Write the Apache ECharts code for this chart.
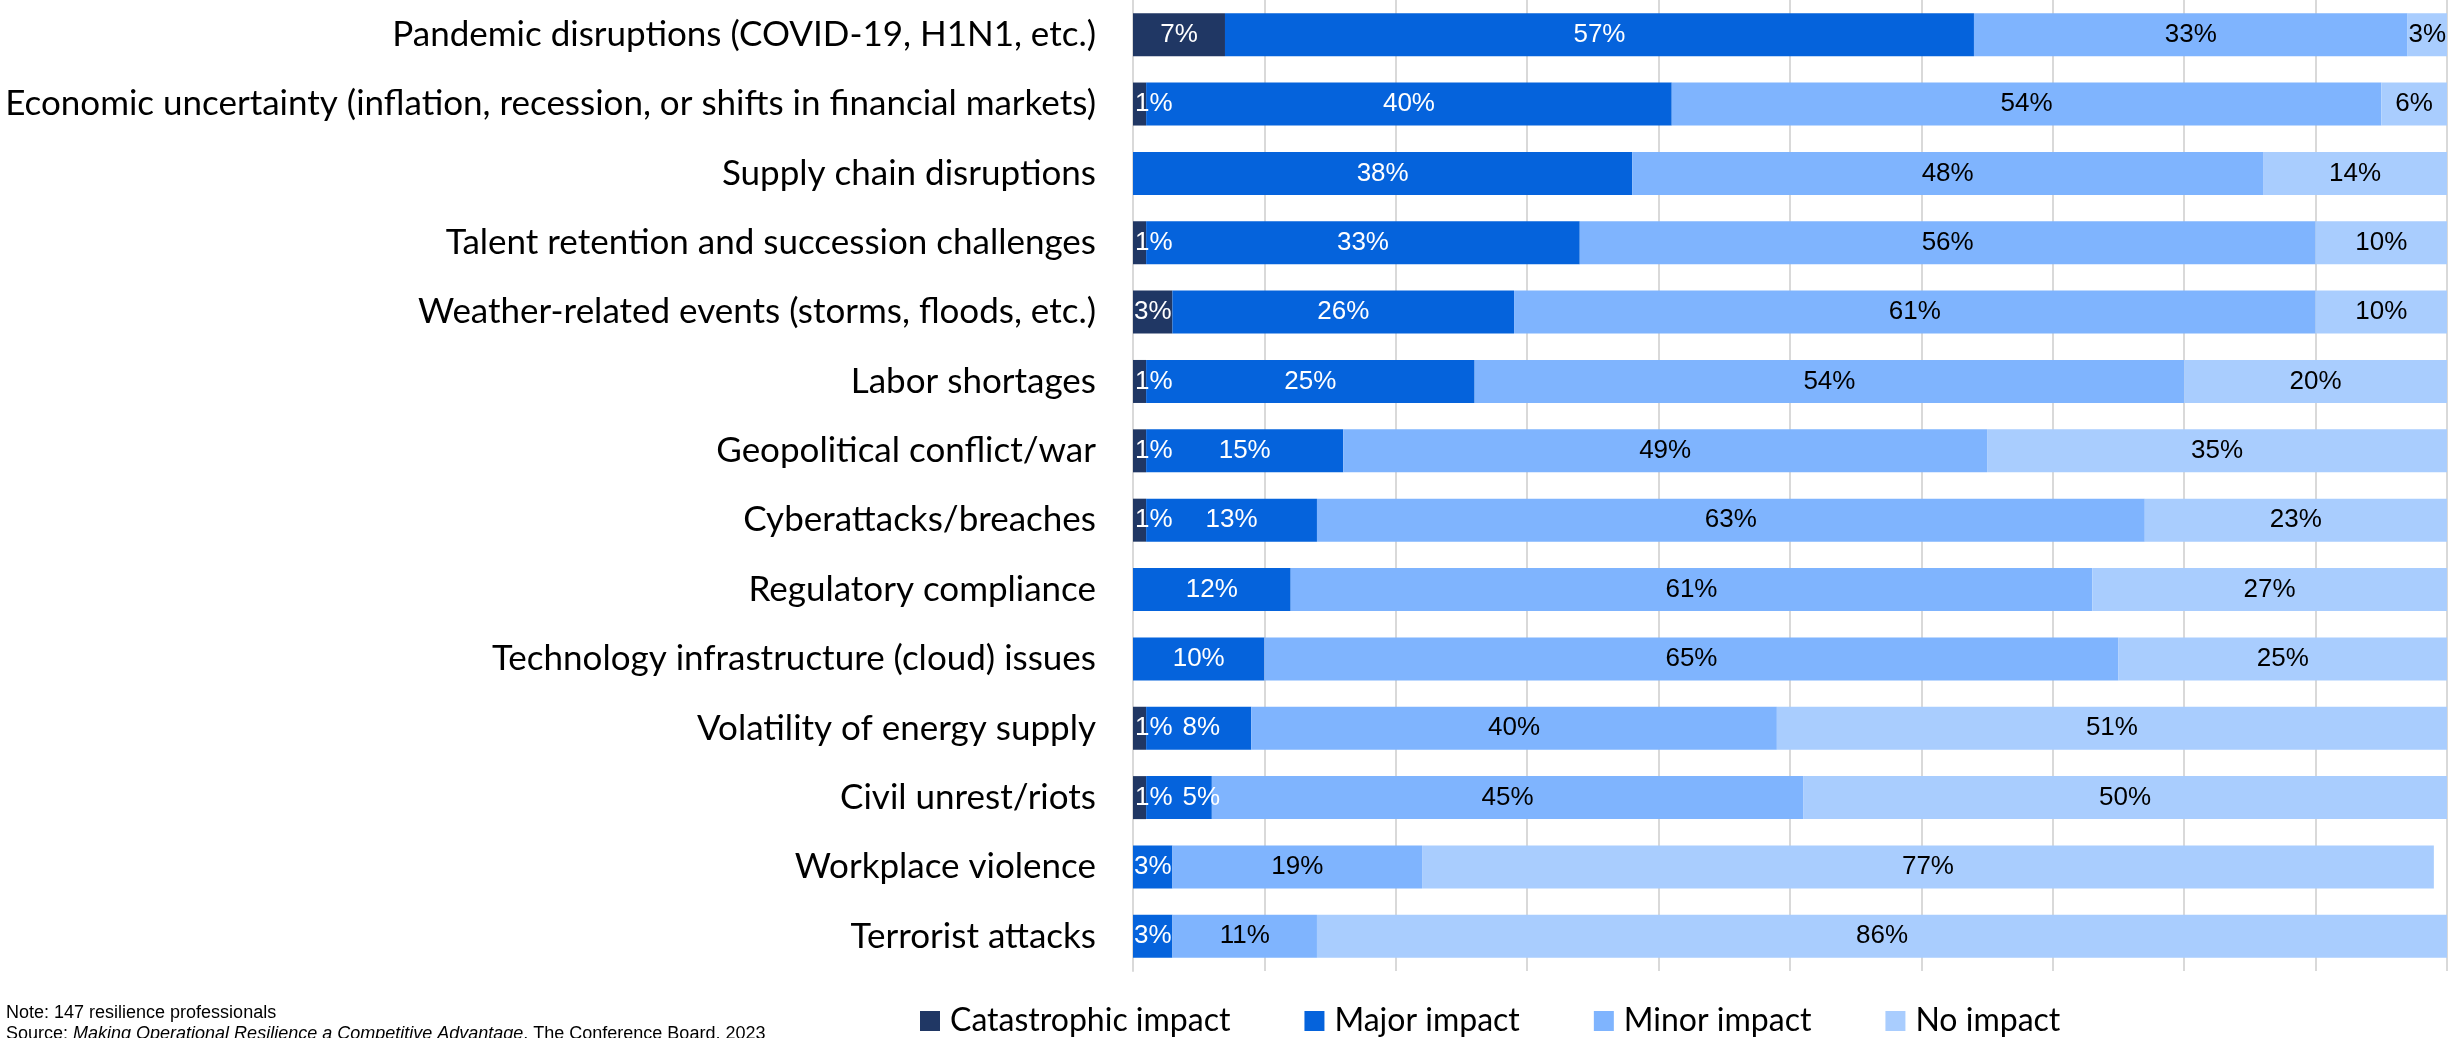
<!DOCTYPE html>
<html>
<head>
<meta charset="utf-8">
<title>Operational risk impact</title>
<script src="https://cdn.jsdelivr.net/npm/echarts@6/dist/echarts.min.js"></script>
<style>
  html, body { margin: 0; padding: 0; background: #ffffff; }
  #chart { width: 2455px; height: 1038px; }
</style>
</head>
<body>
<div id="chart"></div>
<script>
// Risk categories, top to bottom
const categories = [
  'Pandemic disruptions (COVID-19, H1N1, etc.)',
  'Economic uncertainty (inflation, recession, or shifts in financial markets)',
  'Supply chain disruptions',
  'Talent retention and succession challenges',
  'Weather-related events (storms, floods, etc.)',
  'Labor shortages',
  'Geopolitical conflict/war',
  'Cyberattacks/breaches',
  'Regulatory compliance',
  'Technology infrastructure (cloud) issues',
  'Volatility of energy supply',
  'Civil unrest/riots',
  'Workplace violence',
  'Terrorist attacks'
];

// Share of respondents (%) per impact level
const catastrophic = [7, 1, 0, 1, 3, 1, 1, 1, 0, 0, 1, 1, 0, 0];
const major        = [57, 40, 38, 33, 26, 25, 15, 13, 12, 10, 8, 5, 3, 3];
const minor        = [33, 54, 48, 56, 61, 54, 49, 63, 61, 65, 40, 45, 19, 11];
const noImpact     = [3, 6, 14, 10, 10, 20, 35, 23, 27, 25, 51, 50, 77, 86];

const seriesNames = ['Catastrophic impact', 'Major impact', 'Minor impact', 'No impact'];
const colors = ['#203764', '#0563DC', '#7FB4FE', '#A9CDFE'];
const labelColors = ['#ffffff', '#ffffff', '#000000', '#000000'];

const GRID_LEFT = 1133, GRID_RIGHT = 8;
const plotWidth = 2455 - GRID_LEFT - GRID_RIGHT;
const pxPerPct = plotWidth / 100;
const LABEL_FONT = 26;
// rough width of a "NN%" label in a Helvetica-metric face
const approxLabelWidth = v => (String(v).length * 0.556 + 0.889) * LABEL_FONT;

const allValues = [catastrophic, major, minor, noImpact];

// Per-item label placement: very thin leading segments get their label pinned
// to the axis, and a following label is nudged right if it would collide.
function buildData(si) {
  return allValues[si].map((v, row) => {
    const item = { value: v };
    if (v === 0) {
      item.label = { show: false };
      return item;
    }
    if (si === 0 && v <= 1) {
      item.label = { position: 'insideLeft', distance: 2 };
    } else if (si === 1 && catastrophic[row] > 0 && catastrophic[row] <= 1) {
      const prevEnd = 2 + approxLabelWidth(catastrophic[row]);
      const center = (catastrophic[row] + v / 2) * pxPerPct;
      const left = center - approxLabelWidth(v) / 2;
      const gap = 10;
      if (left < prevEnd + gap) {
        item.label = { offset: [prevEnd + gap - left, 0] };
      }
    }
    return item;
  });
}

const series = seriesNames.map((name, si) => ({
  name: name,
  type: 'bar',
  stack: 'total',
  barWidth: 43,
  itemStyle: { color: colors[si] },
  label: {
    show: true,
    position: 'inside',
    formatter: p => p.value + '%',
    color: labelColors[si],
    fontFamily: '"Liberation Sans", Arial, sans-serif',
    fontSize: LABEL_FONT
  },
  emphasis: { disabled: true },
  data: buildData(si)
}));

const chart = echarts.init(document.getElementById('chart'), null, { renderer: 'canvas' });
chart.setOption({
  animation: false,
  backgroundColor: '#ffffff',
  grid: { left: GRID_LEFT, right: GRID_RIGHT, top: 0, bottom: 67, containLabel: false },
  xAxis: {
    type: 'value',
    min: 0,
    max: 100,
    interval: 10,
    axisLabel: { show: false },
    axisLine: { show: false },
    axisTick: { show: false },
    splitLine: { show: true, lineStyle: { color: '#d9d9d9', width: 2 } }
  },
  yAxis: {
    type: 'category',
    inverse: true,
    data: categories,
    axisTick: { show: false },
    axisLine: { show: true, lineStyle: { color: '#d9d9d9', width: 2 } },
    axisLabel: {
      margin: 37,
      color: '#000000',
      fontFamily: 'Lato, "Open Sans", sans-serif',
      fontSize: 35
    }
  },
  legend: {
    left: 920,
    top: 1005,
    padding: 0,
    itemWidth: 20,
    itemHeight: 20,
    itemGap: 74,
    icon: 'rect',
    selectedMode: false,
    textStyle: {
      color: '#000000',
      fontFamily: 'Lato, "Open Sans", sans-serif',
      fontSize: 32,
      padding: [0, 0, 0, 5]
    },
    data: seriesNames
  },
  graphic: [
    {
      type: 'text',
      left: 6,
      top: 1004,
      style: {
        text: 'Note: 147 resilience professionals',
        font: '18px "Liberation Sans", Arial, sans-serif',
        fill: '#000000'
      }
    },
    {
      type: 'text',
      left: 6,
      top: 1025,
      style: {
        text: '{n|Source: }{i|Making Operational Resilience a Competitive Advantage}{n|, The Conference Board, 2023}',
        rich: {
          n: { fontFamily: '"Liberation Sans", Arial, sans-serif', fontSize: 18, fill: '#000000' },
          i: { fontFamily: '"Liberation Sans", Arial, sans-serif', fontSize: 18, fontStyle: 'italic', fill: '#000000' }
        }
      }
    }
  ],
  series: series
});
</script>
</body>
</html>
